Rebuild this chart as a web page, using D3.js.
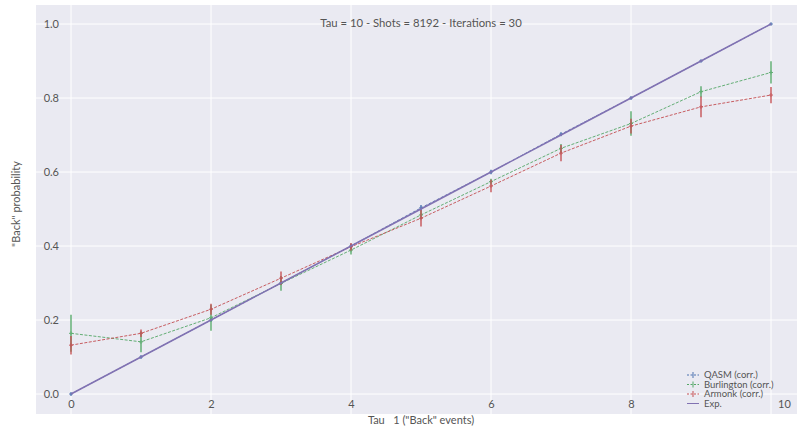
<!DOCTYPE html>
<html>
<head>
<meta charset="utf-8">
<script src="https://cdn.jsdelivr.net/npm/d3@7"></script>
<style>
  body { margin: 0; background: #fff; }
  text { font-family: Lato, "DejaVu Sans", sans-serif; fill: #555; }
</style>
</head>
<body>
<div id="chart"></div>
<script>
(function() {

// x values (number of "Back" events)
var taus = [0, 1, 2, 3, 4, 5, 6, 7, 8, 9, 10];

// series values and error sizes
var qasm = [0.0, 0.1, 0.2, 0.3, 0.4, 0.503, 0.6, 0.702, 0.8, 0.9, 1.0];
var qasmErr = [0.004, 0.004, 0.004, 0.005, 0.006, 0.008, 0.006, 0.005, 0.004, 0.003, 0.002];
var burlington = [0.164, 0.141, 0.206, 0.299, 0.389, 0.484, 0.574, 0.664, 0.731, 0.817, 0.869];
var burlingtonErr = [0.05, 0.028, 0.035, 0.02, 0.012, 0.012, 0.008, 0.012, 0.033, 0.015, 0.03];
var armonk = [0.132, 0.164, 0.229, 0.313, 0.398, 0.475, 0.562, 0.651, 0.724, 0.776, 0.808];
var armonkErr = [0.025, 0.01, 0.015, 0.018, 0.01, 0.022, 0.017, 0.022, 0.02, 0.028, 0.022];
var expected = [0.0, 0.1, 0.2, 0.3, 0.4, 0.5, 0.6, 0.7, 0.8, 0.9, 1.0];

var xTicks = [0, 2, 4, 6, 8, 10];
var yTicks = [0.0, 0.2, 0.4, 0.6, 0.8, 1.0];

var W = 797, H = 430;
var margin = {top: 5, right: 0, bottom: 16, left: 36},
    width = W - margin.left - margin.right,
    height = H - margin.top - margin.bottom;

var svg = d3.select('#chart').append('svg')
    .attr('width', W)
    .attr('height', H);

var g = svg.append('g')
    .attr('transform', 'translate(' + margin.left + ',' + margin.top + ')');

// x: 0 -> 35px, 10 -> 735px inside plot area
var x = d3.scaleLinear().domain([0, 10]).range([35, 735]);
// y: 0 -> 389, 1 -> 19 inside plot area
var y = d3.scaleLinear().domain([0, 1]).range([389, 19]);

g.append('rect')
    .attr('width', width)
    .attr('height', height)
    .attr('fill', '#EAEAF2');

// grid
g.append('g').selectAll('line').data(xTicks).enter().append('line')
    .attr('x1', function(d) { return x(d); })
    .attr('x2', function(d) { return x(d); })
    .attr('y1', 0).attr('y2', height)
    .attr('stroke', '#fff').attr('stroke-width', 1);
g.append('g').selectAll('line').data(yTicks).enter().append('line')
    .attr('y1', function(d) { return y(d); })
    .attr('y2', function(d) { return y(d); })
    .attr('x1', 0).attr('x2', width)
    .attr('stroke', '#fff').attr('stroke-width', 1);

// axes (labels only, no domain/ticks)
var xAxis = g.append('g')
    .attr('transform', 'translate(0,' + (height - 16) + ')')
    .call(d3.axisBottom(x).tickValues(xTicks).tickSize(0).tickPadding(2).tickFormat(d3.format('d')));
xAxis.select('.domain').remove();
xAxis.selectAll('text').style('font-size', '11px').attr('fill', '#555')
    .attr('dx', function(d) { return d === 10 ? 13 : 0; });

var yAxis = g.append('g')
    .attr('transform', 'translate(25,0)')
    .call(d3.axisLeft(y).tickValues(yTicks).tickSize(0).tickPadding(2).tickFormat(d3.format('.1f')));
yAxis.select('.domain').remove();
yAxis.selectAll('text').style('font-size', '11px').attr('fill', '#555');

// series
var series = [
  {name: 'QASM (corr.)', vals: qasm, err: qasmErr, color: '#4C72B0'},
  {name: 'Burlington (corr.)', vals: burlington, err: burlingtonErr, color: '#55A868'},
  {name: 'Armonk (corr.)', vals: armonk, err: armonkErr, color: '#C44E52'}
];

var line = d3.line()
    .x(function(d) { return x(d[0]); })
    .y(function(d) { return y(d[1]); });

series.forEach(function(s) {
  var pts = taus.map(function(t, i) { return [t, s.vals[i], s.err[i]]; });
  var sg = g.append('g').attr('opacity', 0.9);
  sg.append('path')
      .datum(pts)
      .attr('fill', 'none')
      .attr('stroke', s.color)
      .attr('stroke-width', 1)
      .attr('stroke-dasharray', '3,1.5')
      .attr('d', line);
  sg.selectAll('.err').data(pts).enter().append('line')
      .attr('x1', function(d) { return x(d[0]); })
      .attr('x2', function(d) { return x(d[0]); })
      .attr('y1', function(d) { return y(d[1] - d[2]); })
      .attr('y2', function(d) { return y(d[1] + d[2]); })
      .attr('stroke', s.color).attr('stroke-width', 1.5);
  sg.selectAll('.mk').data(pts).enter().append('path')
      .attr('d', function(d) {
        var cx = x(d[0]), cy = y(d[1]);
        return 'M' + (cx - 2) + ',' + cy + 'H' + (cx + 2) + 'M' + cx + ',' + (cy - 2) + 'V' + (cy + 2);
      })
      .attr('stroke', s.color).attr('stroke-width', 1);
});

// expected
g.append('path')
    .datum(taus.map(function(t, i) { return [t, expected[i]]; }))
    .attr('fill', 'none')
    .attr('stroke', '#8172B2')
    .attr('stroke-width', 1.5)
    .attr('d', line);

// title
g.append('text')
    .attr('x', 385).attr('y', 22)
    .style('text-anchor', 'middle')
    .style('font-size', '11.3px')
    .text('Tau = 10 - Shots = 8192 - Iterations = 30');

// legend
var legend = g.append('g').attr('transform', 'translate(651,370)');
var legendItems = series.concat([{name: 'Exp.', color: '#8172B2', exp: true}]);
legendItems.forEach(function(s, i) {
  var ly = i * 9.5;
  var lg = legend.append('g').attr('transform', 'translate(0,' + ly + ')');
  lg.append('line')
      .attr('x1', 0).attr('x2', 12).attr('y1', 0).attr('y2', 0)
      .attr('stroke', s.color).attr('stroke-width', 1)
      .attr('stroke-dasharray', s.exp ? null : '2,1.5');
  if (!s.exp) {
    lg.append('path').attr('d', 'M6,-3V3').attr('stroke', s.color).attr('stroke-width', 1);
  }
  lg.append('text')
      .attr('x', 17).attr('y', 3)
      .style('font-size', '9.5px')
      .text(s.name);
});

// axis labels
svg.append('text')
    .attr('x', 421).attr('y', 424)
    .style('text-anchor', 'middle')
    .style('font-size', '11px')
    .style('white-space', 'pre')
    .text('Tau   1 ("Back" events)');

svg.append('text')
    .attr('transform', 'rotate(-90)')
    .attr('x', -204).attr('y', 20)
    .style('text-anchor', 'middle')
    .style('font-size', '11px')
    .text('"Back" probability');

})();
</script>
</body>
</html>
